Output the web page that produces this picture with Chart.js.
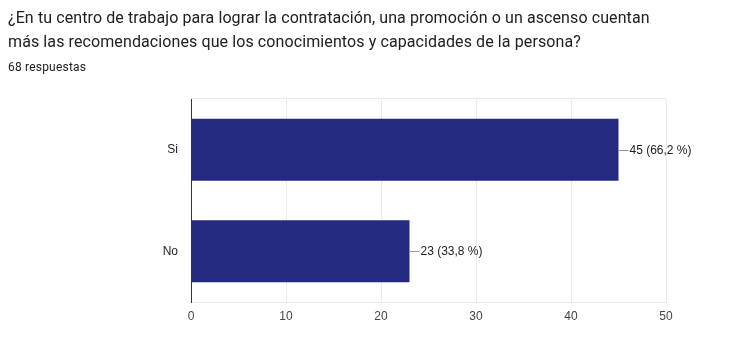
<!DOCTYPE html>
<html>
<head>
<meta charset="utf-8">
<script src="https://cdn.jsdelivr.net/npm/chart.js@4"></script>
<style>
  html, body { margin: 0; padding: 0; background: #fff; }
  body { width: 730px; height: 345px; position: relative; overflow: hidden; font-family: Roboto, Arial, sans-serif; }
  #title { position: absolute; left: 8px; top: 6px; font-size: 16px; line-height: 24px; color: #202124; letter-spacing: 0.1px; }
  #sub { position: absolute; left: 8px; top: 59px; font-size: 12px; line-height: 16px; color: #202124; letter-spacing: 0.2px; }
  #wrap { position: absolute; left: 0; top: 0; width: 730px; height: 345px; }
</style>
</head>
<body>
<div id="wrap"><canvas id="c" width="730" height="345"></canvas></div>
<div id="title">¿En tu centro de trabajo para lograr la contratación, una promoción o un ascenso cuentan<br>más las recomendaciones que los conocimientos y capacidades de la persona?</div>
<div id="sub">68 respuestas</div>
<script>
const categories = ["Si", "No"];
const counts = [45, 23];
const percents = ["66,2", "33,8"];
const xTicks = [0, 10, 20, 30, 40, 50];

const chartFont = '"Liberation Sans", Arial, sans-serif';

const labelPlugin = {
  id: 'barLabels',
  afterDatasetsDraw(chart) {
    const ctx = chart.ctx;
    const meta = chart.getDatasetMeta(0);
    ctx.save();
    meta.data.forEach((bar, i) => {
      const x = bar.x, y = Math.round(bar.y) + 0.5;
      ctx.strokeStyle = '#999';
      ctx.lineWidth = 1;
      ctx.beginPath();
      ctx.moveTo(x, y);
      ctx.lineTo(x + 10, y);
      ctx.stroke();
      ctx.fillStyle = '#222';
      ctx.font = '12px ' + chartFont;
      ctx.textAlign = 'left';
      ctx.textBaseline = 'middle';
      ctx.fillText(counts[i] + ' (' + percents[i] + ' %)', x + 11, y);
    });
    ctx.restore();
  },
  beforeDatasetsDraw(chart) {
    const ctx = chart.ctx, a = chart.chartArea;
    ctx.save();
    ctx.strokeStyle = '#ebebeb';
    ctx.lineWidth = 1;
    ctx.beginPath();
    ctx.moveTo(a.left, a.top - 0.5);
    ctx.lineTo(a.right, a.top - 0.5);
    ctx.stroke();
    ctx.restore();
  }
};

new Chart(document.getElementById('c'), {
  type: 'bar',
  data: {
    labels: categories,
    datasets: [{
      data: counts,
      backgroundColor: '#252a80',
      borderWidth: 0,
      categoryPercentage: 1,
      barPercentage: 0.61
    }]
  },
  options: {
    indexAxis: 'y',
    responsive: false,
    animation: false,
    events: [],
    layout: { padding: { top: 99, right: 64, left: 0, bottom: 0 } },
    plugins: { legend: { display: false }, tooltip: { enabled: false } },
    scales: {
      x: {
        min: 0, max: 50,
        afterBuildTicks(s) { s.ticks = xTicks.map(v => ({ value: v })); },
        afterFit(s) { s.height = 43; },
        grid: {
          color: ctx => (ctx.tick && ctx.tick.value === 0) ? '#333' : '#ebebeb',
          drawTicks: false
        },
        border: { display: true, color: '#ebebeb' },
        ticks: {
          padding: 7,
          color: '#444',
          font: { family: chartFont, size: 12 },
          autoSkip: false
        }
      },
      y: {
        afterFit(s) { s.width = 191; },
        grid: { display: false, drawTicks: false },
        border: { display: true, color: '#333' },
        ticks: {
          padding: 13,
          color: '#222',
          font: { family: chartFont, size: 12 }
        }
      }
    }
  },
  plugins: [labelPlugin]
});
</script>
</body>
</html>
